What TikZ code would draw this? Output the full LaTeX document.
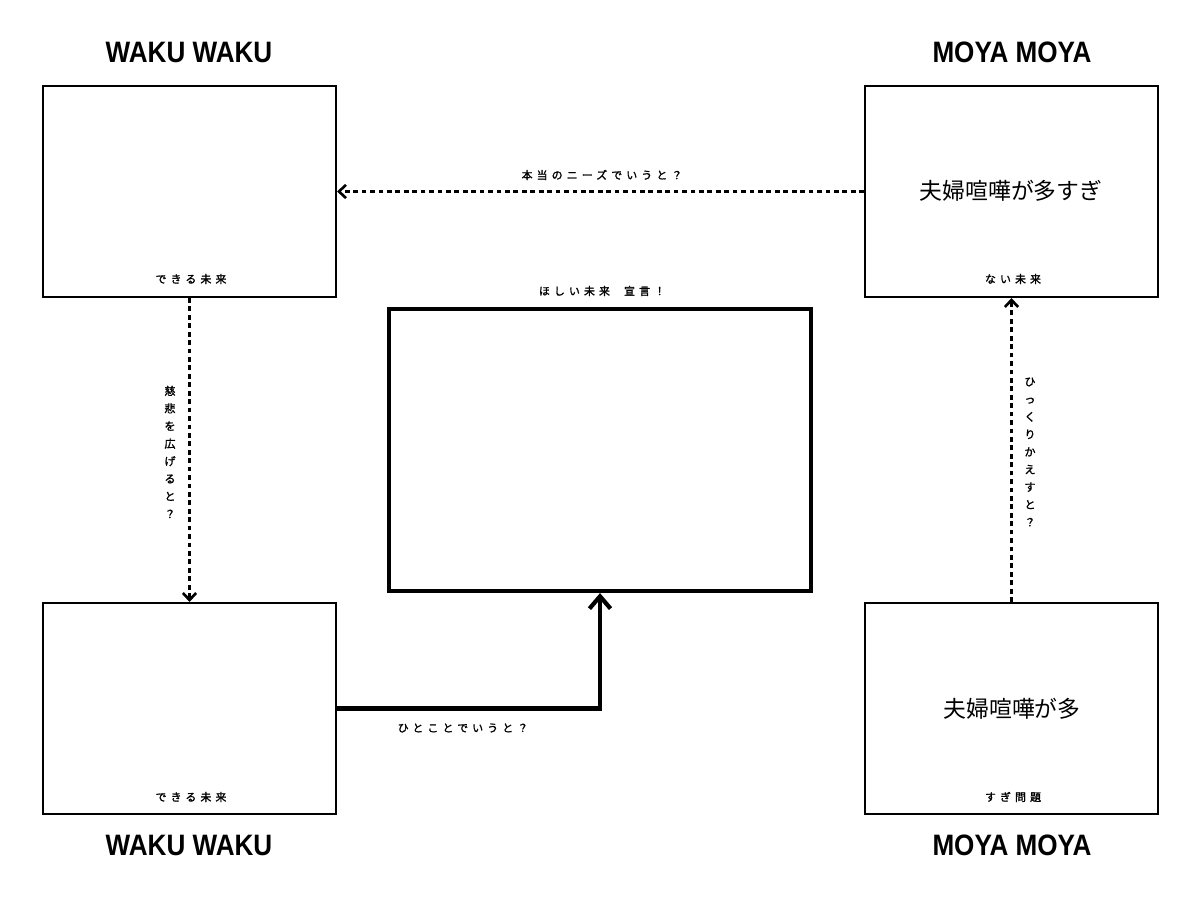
\documentclass[tikz,border=0pt]{standalone}
\usepackage{fontspec}
\usepackage{graphicx}
\setmainfont{Liberation Sans}
\newfontfamily\jp[FakeBold=1.5]{Noto Sans CJK JP}
\newfontfamily\jpbig{Noto Sans CJK JP}
\newfontfamily\jpsp[LetterSpace=38,FakeBold=1.5]{Noto Sans CJK JP}
\usetikzlibrary{arrows.meta}
\newcommand{\ttl}[1]{\scalebox{0.99}[1.12]{#1}}
\begin{document}
\begin{tikzpicture}[x=0.02cm,y=-0.02cm,
  box/.style={draw,line width=1.2pt,minimum width=5.86cm,minimum height=4.22cm,inner sep=0pt},
  bigbox/.style={draw,line width=2.4pt,minimum width=8.44cm,minimum height=5.64cm,inner sep=0pt},
  title/.style={font=\fontsize{15}{18}\selectfont\bfseries},
  small/.style={font=\jpsp\fontsize{6.2}{7}\selectfont,inner sep=0pt},
  vlab/.style={font=\jp\fontsize{6.3}{10}\selectfont,align=center,inner sep=0pt},
  big/.style={font=\jpbig\fontsize{13}{15}\selectfont,inner sep=0pt},
  dashedarrow/.style={line width=1.5pt,dash pattern=on 2.7pt off 2.1pt,-{Straight Barb[length=4pt,width=7.5pt,line width=1.5pt]}},
  thickarrow/.style={line width=2.4pt,-{Straight Barb[length=7pt,width=12pt,line width=2.4pt]}}
]
\path[fill=white] (0,0) rectangle (1200,901);
\useasboundingbox (0,0) rectangle (1200,901);

\node[title] (t1) at (189,52) {\ttl{WAKU WAKU}};
\node[title] (t2) at (1012,52) {\ttl{MOYA MOYA}};
\node[title] (t3) at (189,845) {\ttl{WAKU WAKU}};
\node[title] (t4) at (1012,845) {\ttl{MOYA MOYA}};

\node[box] (TL) at (189.5,191.5) {};
\node[box] (BL) at (189.5,708.5) {};
\node[box] (TR) at (1011.5,191.5) {};
\node[box] (BR) at (1011.5,708.5) {};
\node[bigbox] (C) at (600,450) {};

\node[small] (l1) at (191,279) {できる未来};
\node[small] (l2) at (191,797) {できる未来};
\node[small] (l3) at (1013,279) {ない未来};
\node[small] (l4) at (1013,797) {すぎ問題};
\node[big] (b1) at (1011,191) {夫婦喧嘩が多すぎ};
\node[big] (b2) at (1012,709) {夫婦喧嘩が多};

\node[small] (top) at (602,175) {本当のニーズでいうと？};
\node[small] (ctr) at (602,291) {ほしい未来\hspace{1.3em}宣言！};
\node[small] (bot) at (463,728) {ひとことでいうと？};
\node[vlab] (lv) at (170,452) {慈\\悲\\を\\広\\げ\\る\\と\\？};
\node[vlab] (rv) at (1030,452) {ひ\\っ\\く\\り\\か\\え\\す\\と\\？};

\draw[dashedarrow] (TR.west) -- (TL.east);
\draw[dashedarrow] (TL.south) -- (BL.north);
\draw[dashedarrow] (BR.north) -- (TR.south);
\draw[thickarrow] (BL.east) -| (C.south);
\end{tikzpicture}
\end{document}
